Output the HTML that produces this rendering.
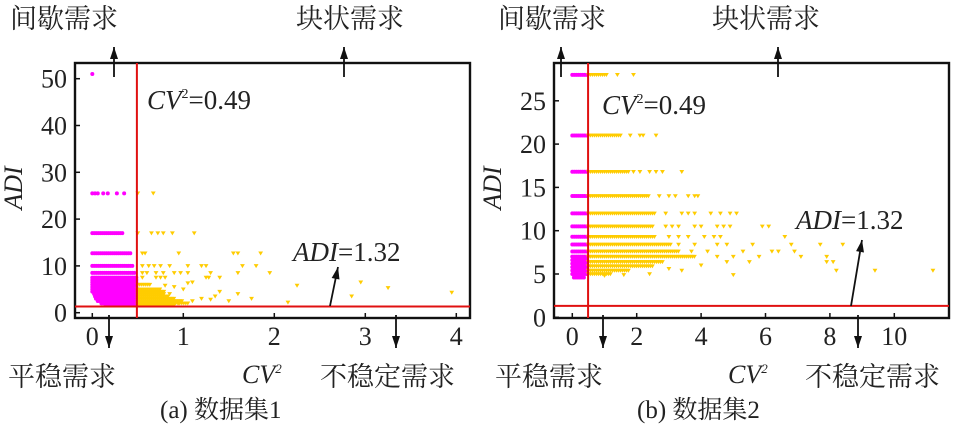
<!DOCTYPE html>
<html><head><meta charset="utf-8"><style>
body{margin:0;background:#fff;}
svg text{font-family:"Liberation Serif","Noto Serif CJK SC",serif;fill:#222;}
</style></head><body>
<svg width="967" height="430" viewBox="0 0 967 430" xmlns="http://www.w3.org/2000/svg">
<g id="p1"></g>
<g id="p2"></g>
<g>
<text x="10" y="28" font-size="27">间歇需求</text>
<text x="296" y="28" font-size="27">块状需求</text>
<text x="498" y="28" font-size="27">间歇需求</text>
<text x="712" y="28" font-size="27">块状需求</text>
<text x="8" y="386" font-size="27">平稳需求</text>
<text x="320" y="386" font-size="27">不稳定需求</text>
<text x="495" y="386" font-size="27">平稳需求</text>
<text x="805" y="386" font-size="27">不稳定需求</text>
<text x="242" y="383" font-size="26" font-style="italic">CV<tspan font-size="13" dy="-10">2</tspan></text>
<text x="728" y="383" font-size="26" font-style="italic">CV<tspan font-size="13" dy="-10">2</tspan></text>
<text x="160" y="418" font-size="25">(a) 数据集1</text>
<text x="637" y="418" font-size="25">(b) 数据集2</text>
</g>
<script>
const NS="http://www.w3.org/2000/svg";
// Panel A data
const xTicksA=[0,1,2,3,4];
const yTicksA=[0,10,20,30,40,50];
const magentaA=[[0,51],[0,25.5],[0.03,25.5],[0.06,25.5],[0.12,25.5],[0.17,25.5],[0.27,25.5],[0.35,25.5]];
const magentaBandsA=[[17,0,0.33],[12.7,0,0.42],[10,0,0.46],[8.5,0,0.48],[7.5,0,0.49],[7,0,0.49],[6.5,0,0.49],[6,0,0.49],[5.5,0,0.49],[5,0,0.49],[4.5,0,0.49],[4,0.02,0.49],[3.5,0.03,0.49],[3,0.04,0.49],[2.5,0.06,0.49],[2,0.1,0.49],[1.6,0.15,0.49]];
const yellowA=[[0.5,25.5],[0.67,25.5],[0.5,17],[0.65,17],[0.72,17],[0.78,17],[0.88,17],[1.12,17],[0.55,12.7],[0.58,12.7],[0.95,12.7],[1.55,12.7],[1.6,12.7],[1.85,12.7],[0.55,10],[0.62,10],[0.68,10],[0.75,10],[0.85,10],[1.05,10],[1.2,10],[1.25,10],[1.65,10],[1.8,10],[0.55,8.5],[0.6,8.5],[0.7,8.5],[0.78,8.5],[0.9,8.5],[0.97,8.5],[1.05,8.5],[1.3,8.5],[1.6,8.5],[1.95,8.5],[0.55,7.5],[0.7,7.5],[0.75,7.5],[0.8,7.5],[1.25,7.5],[1.28,7.5],[1.4,7.5],[1.1,6.5],[1.05,6.3],[2.25,5.8],[2.95,6.5],[3.25,5.3],[3.95,4.3],[2.85,3.5],[2.15,2.2],[1.75,3],[1.6,4],[1.4,4.5],[1.35,3.5],[1.0,5],[0.9,5.5],[1.2,3],[0.95,2],[1.1,2.5],[1.3,2.8],[1.5,2.5],[0.85,4],[0.8,5.8],[0.75,3.8]];
const yellowBandsA=[[6,0.5,0.65],[5,0.5,0.75],[4.5,0.5,0.8],[4,0.5,0.8],[3.5,0.5,0.85],[3,0.5,0.9],[2.5,0.5,1.0],[2,0.5,1.05],[1.6,0.5,0.9]];
// Panel B data
const xTicksB=[0,2,4,6,8,10];
const yTicksB=[0,5,10,15,20,25];
const magentaBandsB=[[28,0,0.49],[21,0,0.49],[16.8,0,0.49],[14,0,0.49],[12,0,0.49],[10.5,0,0.49],[9.3,0,0.49],[8.4,0,0.49],[7.6,0,0.49],[7,0,0.49],[6.6,0,0.49],[6.2,0,0.49],[5.8,0,0.49],[5.4,0,0.49],[5,0,0.49],[4.6,0.05,0.4]];
const yellowBandsB=[[28,0.5,1.1],[21,0.5,1.5],[16.8,0.5,1.8],[14,0.5,2.4],[12,0.5,2.6],[10.5,0.5,2.5],[9.3,0.5,2.6],[8.4,0.5,3.1],[7.6,0.5,3.3],[7,0.5,3.8],[6.4,0.5,2.8],[5.9,0.5,2.5],[5.4,0.5,1.8],[5,0.5,1.2]];
const yellowB=[[1.4,28],[1.9,28],[1.8,21],[2.1,21],[2.2,21],[2.6,21],[1.9,16.8],[2.1,16.8],[2.4,16.8],[2.6,16.8],[2.8,16.8],[3.4,16.8],[2.7,14],[3.0,14],[3.2,14],[3.6,14],[3.8,14],[3.9,14],[2.9,12],[3.4,12],[3.6,12],[3.8,12],[4.3,12],[4.6,12],[4.9,12],[5.1,12],[2.9,10.5],[3.1,10.5],[3.3,10.5],[3.8,10.5],[4.0,10.5],[4.5,10.5],[4.7,10.5],[4.9,10.5],[5.9,10.5],[6.1,10.5],[3.0,9.3],[3.3,9.3],[3.6,9.3],[4.1,9.3],[4.4,9.3],[4.6,9.3],[6.6,9.3],[3.3,8.4],[3.8,8.4],[4.5,8.4],[4.8,8.4],[5.6,8.4],[6.8,8.4],[7.7,8.4],[8.4,8.4],[3.7,7.6],[4.2,7.6],[5.3,7.6],[6.2,7.6],[6.4,7.6],[6.9,7.6],[4.5,7],[5.0,7],[5.8,7],[7.1,7],[7.9,7],[4.8,6.4],[5.5,6.4],[8.1,6.4],[7.9,6.4],[3.4,5.4],[5.0,4.9],[8.2,5.4],[9.4,5.4],[11.2,5.4],[1.0,4.8],[1.6,4.9],[2.4,5.0],[3.0,5.6],[4.0,6.0]];

function el(tag,attrs,parent){const e=document.createElementNS(NS,tag);for(const k in attrs)e.setAttribute(k,attrs[k]);parent.appendChild(e);return e;}
function ts(parent,txt,attrs){const t=el('tspan',attrs||{},parent);t.textContent=txt;return t;}

function panel(g,cfg){
  const sx=v=>cfg.x0+v*cfg.kx, sy=v=>cfg.y0-v*cfg.ky;
  const box=el('rect',{x:cfg.L,y:63,width:cfg.R-cfg.L,height:255,fill:'none',stroke:'#111','stroke-width':2.4},g);
  
  
  cfg.xt.forEach(t=>{
    const l=el('line',{x1:sx(t),x2:sx(t),y1:318,y2:313,stroke:'#111','stroke-width':1.5},g);
    
    
    const tx=el('text',{x:sx(t),y:345,'font-size':26,'text-anchor':'middle'},g);tx.textContent=t;
    
    
  });
  cfg.yt.forEach(t=>{
    const l=el('line',{x1:cfg.L,x2:cfg.L+5,y1:sy(t),y2:sy(t),stroke:'#111','stroke-width':1.5},g);
    
    
    const tx=el('text',{x:cfg.L-8,y:sy(t)+9,'font-size':26,'text-anchor':'end'},g);tx.textContent=t;
    
    
  });
  const yl=el('text',{x:0,y:0,'font-size':26,'font-style':'italic','text-anchor':'middle',transform:`translate(${cfg.L-53},188) rotate(-90)`},g);yl.textContent='ADI';
  
  
  const dots=el('g',{},g);
  
  
  const tris=el('g',{},g);
  
  
  const dot=(x,y)=>{const c=el('circle',{cx:sx(x),cy:sy(y),r:2,fill:'#f0f'},dots);
    
    };
  const tri=(x,y)=>{const X=sx(x),Y=sy(y);const p=el('path',{d:`M${X-2.4},${Y-1.8}L${X+2.4},${Y-1.8}L${X},${Y+2.2}Z`,fill:'#fc0'},tris);
    
    };
  const band=(b,f)=>{const step=2/cfg.kx;for(let x=b[1];x<=b[2]+1e-9;x+=step)f(x,b[0]);};
  cfg.yb.forEach(b=>band(b,tri));
  cfg.ya.forEach(p=>tri(p[0],p[1]));
  cfg.mb.forEach(b=>band(b,dot));
  cfg.ma.forEach(p=>dot(p[0],p[1]));
  const vx=sx(0.49), hy=sy(1.32);
  const v=el('line',{x1:vx,x2:vx,y1:63,y2:318,stroke:'#e01010','stroke-width':2},g);
  
  
  const h=el('line',{x1:cfg.L,x2:cfg.R,y1:hy,y2:hy,stroke:'#e01010','stroke-width':2},g);
  
  
  const t1=el('text',{x:cfg.cvx,y:cfg.cvy,'font-size':27},g);
  ts(t1,'CV',{'font-style':'italic'});
  ts(t1,'2',{'font-size':14,dy:-11});
  ts(t1,'=0.49',{dy:11});
  
  
  const t2=el('text',{x:cfg.adx,y:cfg.ady,'font-size':27},g);
  ts(t2,'ADI',{'font-style':'italic'});
  ts(t2,'=1.32');
  
  
  const arrow=(x1,y1,x2,y2,name)=>{const a=el('g',{},g);
    
    
    el('line',{x1,y1,x2,y2,stroke:'#111','stroke-width':1.8},a);
    const ang=Math.atan2(y2-y1,x2-x1),L=12,W=4;
    const bx=x2-L*Math.cos(ang),by=y2-L*Math.sin(ang);
    const px=-Math.sin(ang)*W,py=Math.cos(ang)*W;
    el('path',{d:`M${x2},${y2}L${bx+px},${by+py}L${bx-px},${by-py}Z`,fill:'#111'},a);};
  cfg.arrows.forEach(a=>arrow(...a));
}
panel(document.getElementById('p1'),{L:75,R:470,x0:92.3,kx:91,y0:312.7,ky:4.68,xt:xTicksA,yt:yTicksA,ma:magentaA,mb:magentaBandsA,ya:yellowA,yb:yellowBandsA,cvx:147,cvy:109,adx:293,ady:261,
 arrows:[[114,77,114,47,'arrow-up-intermittent'],[344,77,344,47,'arrow-up-lumpy'],[109,315,109,348,'arrow-down-smooth'],[396,315,396,348,'arrow-down-erratic'],[330,306,338,267,'arrow-adi']]});
panel(document.getElementById('p2'),{L:554,R:949,x0:572.3,kx:32.2,y0:317.3,ky:8.66,xt:xTicksB,yt:yTicksB,ma:[],mb:magentaBandsB,ya:yellowB,yb:yellowBandsB,cvx:602,cvy:114,adx:796,ady:229,
 arrows:[[561,77,561,47,'arrow-up-intermittent'],[778,77,778,47,'arrow-up-lumpy'],[603,315,603,348,'arrow-down-smooth'],[858,315,858,348,'arrow-down-erratic'],[851,306,862,240,'arrow-adi']]});
</script>
</svg>
</body></html>
